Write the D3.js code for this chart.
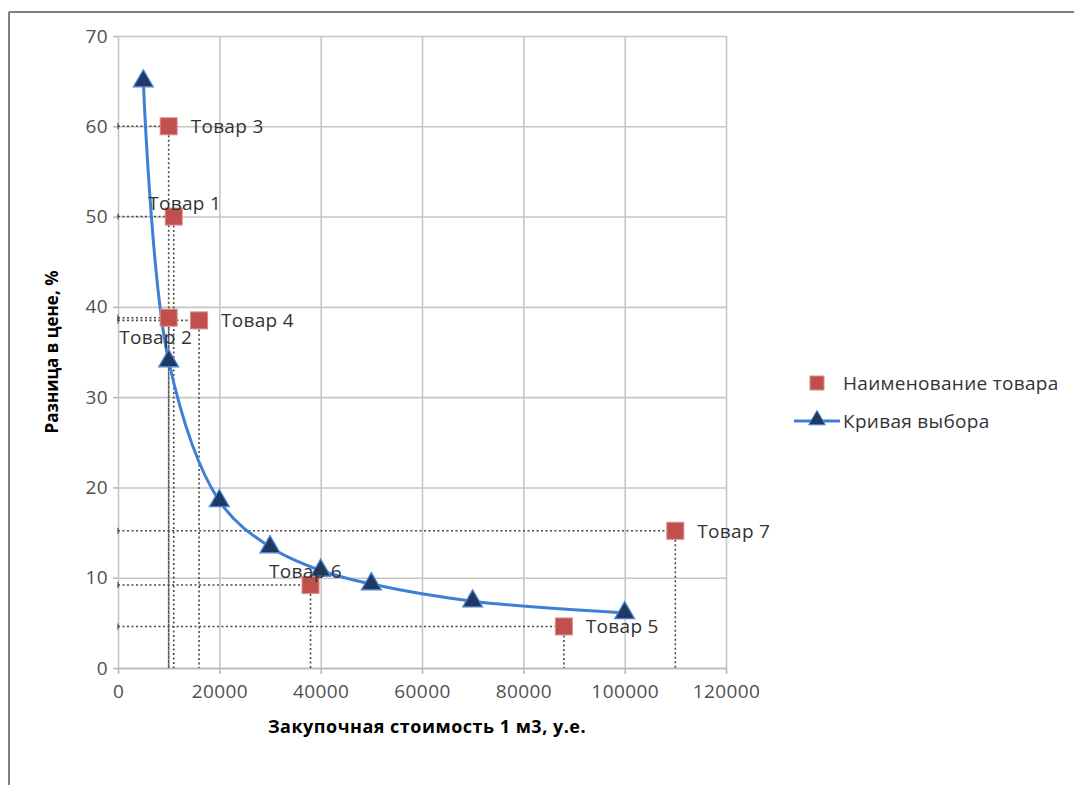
<!DOCTYPE html>
<html>
<head>
<meta charset="utf-8">
<script src="https://cdn.jsdelivr.net/npm/d3@7"></script>
<style>
  body { margin: 0; background: #fff; }
  text { font-family: "Open Sans", sans-serif; }
</style>
</head>
<body>
<div id="chart"></div>
<script>
// Data
const curveX = [5000, 10000, 20000, 30000, 40000, 50000, 70000, 100000];
const curveY = [65, 34, 18.5, 13.4, 10.8, 9.3, 7.4, 6.1];

const goodsNames = ["Товар 1", "Товар 2", "Товар 3", "Товар 4", "Товар 5", "Товар 6", "Товар 7"];
const goodsX = [11000, 10000, 10000, 16000, 88000, 38000, 110000];
const goodsY = [50, 38.8, 60, 38.5, 4.6, 9.2, 15.2];
// where each label sits relative to its square, plus a small horizontal nudge
const labelPlace = ["top", "below", "right", "right", "right", "top", "right"];
const labelDx = [11, -13, 0, 0, 0, -5, 0];

const xTicks = [0, 20000, 40000, 60000, 80000, 100000, 120000];
const yTicks = [0, 10, 20, 30, 40, 50, 60, 70];

const width = 1074, height = 785;
const plot = { left: 118, right: 726, top: 36, bottom: 668 };

const svg = d3.select("#chart")
  .append("svg")
  .attr("width", width)
  .attr("height", height);

// outer frame (top and left edges only visible)
svg.append("line").attr("x1", 9).attr("x2", width).attr("y1", 12).attr("y2", 12)
  .attr("stroke", "#7f7f7f").attr("stroke-width", 2);
svg.append("line").attr("x1", 9).attr("x2", 9).attr("y1", 12).attr("y2", height)
  .attr("stroke", "#7f7f7f").attr("stroke-width", 2);

const x = d3.scaleLinear().domain([0, 120000]).range([plot.left, plot.right]);
const y = d3.scaleLinear().domain([0, 70]).range([plot.bottom, plot.top]);

// grid
svg.append("g")
  .attr("transform", `translate(0,${plot.bottom})`)
  .call(d3.axisBottom(x).tickValues(xTicks).tickSize(-(plot.bottom - plot.top)).tickFormat(""))
  .call(g => g.select(".domain").remove())
  .call(g => g.selectAll("line").attr("stroke", "#c6c6c6").attr("stroke-width", 1.6));
svg.append("g")
  .attr("transform", `translate(${plot.left},0)`)
  .call(d3.axisLeft(y).tickValues(yTicks).tickSize(-(plot.right - plot.left)).tickFormat(""))
  .call(g => g.select(".domain").remove())
  .call(g => g.selectAll("line").attr("stroke", "#c6c6c6").attr("stroke-width", 1.6));

// axes with labels
const xAxis = svg.append("g")
  .attr("transform", `translate(0,${plot.bottom})`)
  .call(d3.axisBottom(x).tickValues(xTicks).tickSize(6).tickSizeOuter(0).tickPadding(11).tickFormat(d3.format("d")));
const yAxis = svg.append("g")
  .attr("transform", `translate(${plot.left},0)`)
  .call(d3.axisLeft(y).tickValues(yTicks).tickSize(5).tickSizeOuter(0).tickPadding(5));
[xAxis, yAxis].forEach(g => {
  g.select(".domain").attr("stroke", "#b8b8b8").attr("stroke-width", 1.6);
  g.selectAll(".tick line").attr("stroke", "#b8b8b8").attr("stroke-width", 1.6);
  g.selectAll(".tick text").attr("fill", "#505050").style("font-size", "19px")
    .style("letter-spacing", "0.4px")
    .style("font-family", "'Open Sans', sans-serif");
});
yAxis.select(".domain").remove();

// axis titles
svg.append("text")
  .attr("x", (plot.left + plot.right) / 2 + 5)
  .attr("y", 733)
  .attr("text-anchor", "middle")
  .style("font-size", "18px").style("font-weight", "bold").style("letter-spacing", "0.5px")
  .attr("fill", "#000")
  .text("Закупочная стоимость 1 м3, у.е.");
svg.append("text")
  .attr("transform", "translate(58,352) rotate(-90)")
  .attr("text-anchor", "middle")
  .style("font-size", "17px").style("font-weight", "bold").attr("fill", "#000")
  .text("Разница в цене, %");

// dotted drop lines (error-bar style) for goods
const goods = goodsNames.map((n, i) => ({ name: n, x: goodsX[i], y: goodsY[i], place: labelPlace[i], dx: labelDx[i] }));
const drops = svg.append("g")
  .attr("stroke", "#4a4a4a").attr("stroke-width", 1.6).attr("stroke-dasharray", "2,2.5");
goods.forEach(d => {
  drops.append("line").attr("x1", x(0)).attr("x2", x(d.x)).attr("y1", y(d.y)).attr("y2", y(d.y));
  drops.append("line").attr("x1", x(d.x)).attr("x2", x(d.x)).attr("y1", y(d.y)).attr("y2", y(0));
});
const caps = svg.append("g").attr("stroke", "#4a4a4a").attr("stroke-width", 1.2);
goods.forEach(d => {
  caps.append("line").attr("x1", x(0)).attr("x2", x(0)).attr("y1", y(d.y) - 3).attr("y2", y(d.y) + 3);
});

// selection curve
const curveData = curveX.map((v, i) => ({ x: v, y: curveY[i] }));
svg.append("path")
  .datum(curveData)
  .attr("fill", "none")
  .attr("stroke", "#3d7fd6")
  .attr("stroke-width", 3)
  .attr("d", d3.line().x(d => x(d.x)).y(d => y(d.y)).curve(d3.curveCatmullRom.alpha(0.5)));

const tri = d3.symbol().type(d3.symbolTriangle).size(170);
svg.append("g").selectAll("path")
  .data(curveData)
  .join("path")
  .attr("transform", d => `translate(${x(d.x)},${y(d.y)})`)
  .attr("d", tri)
  .attr("fill", "#1f3864")
  .attr("stroke", "#4a86d0")
  .attr("stroke-width", 1.3);

// goods squares
const sq = 17;
svg.append("g").selectAll("rect")
  .data(goods)
  .join("rect")
  .attr("x", d => x(d.x) - sq / 2)
  .attr("y", d => y(d.y) - sq / 2)
  .attr("width", sq).attr("height", sq)
  .attr("fill", "#c0504d")
  .attr("stroke", "#d98c8a").attr("stroke-width", 1);

// labels
svg.append("g").selectAll("text")
  .data(goods)
  .join("text")
  .attr("x", d => (d.place === "right" ? x(d.x) + 22 : x(d.x)) + d.dx)
  .attr("y", d => d.place === "top" ? y(d.y) - 7 : d.place === "below" ? y(d.y) + 26 : y(d.y) + 7)
  .attr("text-anchor", d => d.place === "right" ? "start" : "middle")
  .attr("fill", "#333")
  .style("font-size", "19px")
  .style("letter-spacing", "0.3px")
  .text(d => d.name);

// legend
const lg = svg.append("g");
lg.append("rect").attr("x", 810).attr("y", 376).attr("width", 14).attr("height", 14)
  .attr("fill", "#c0504d").attr("stroke", "#d98c8a");
lg.append("text").attr("x", 843).attr("y", 390).attr("fill", "#333")
  .style("font-size", "19px").style("letter-spacing", "0.3px").text("Наименование товара");
lg.append("line").attr("x1", 794).attr("x2", 840).attr("y1", 421).attr("y2", 421)
  .attr("stroke", "#3d7fd6").attr("stroke-width", 3);
lg.append("path").attr("transform", "translate(817,420)")
  .attr("d", d3.symbol().type(d3.symbolTriangle).size(120))
  .attr("fill", "#1f3864").attr("stroke", "#4a86d0");
lg.append("text").attr("x", 843).attr("y", 428).attr("fill", "#333")
  .style("font-size", "19px").style("letter-spacing", "0.3px").text("Кривая выбора");
</script>
</body>
</html>
